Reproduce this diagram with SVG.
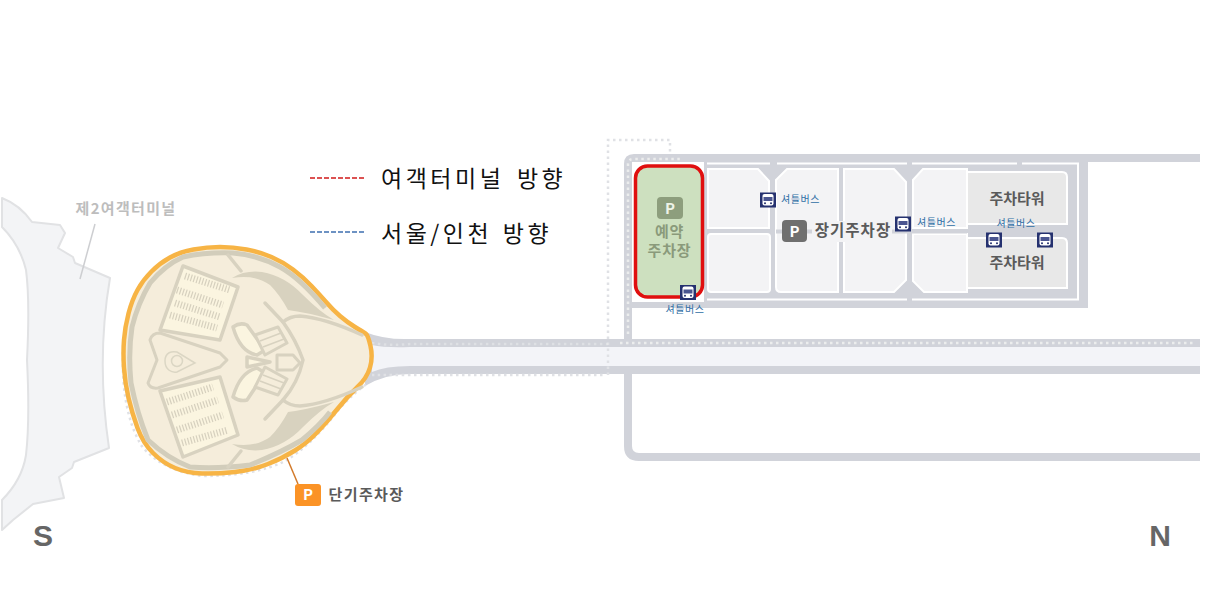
<svg xmlns="http://www.w3.org/2000/svg" width="1214" height="602" viewBox="0 0 1214 602">
<style>
text{font-family:"Noto Sans CJK KR","Liberation Sans",sans-serif}
.lot{fill:#f3f3f5;stroke:#fff;stroke-width:2}
.tower{fill:#e8e8e8;stroke:#fff;stroke-width:2}
.sh{font-size:10px;fill:#2f6ea5;text-anchor:middle;letter-spacing:.6px}
.dot{fill:none;stroke:#e0e1e5;stroke-width:2.500;stroke-dasharray:2.500 3.500}
.dotl{fill:none;stroke:#eceded;stroke-width:2.500;stroke-dasharray:2.500 3.500}
.wl{fill:none;stroke:#fff;stroke-width:2}
.ln{fill:none;stroke:#d8d2c0;stroke-width:3.500;stroke-linejoin:round;stroke-linecap:round}
.stall{fill:#fbf5e0;stroke:#d8d2c0;stroke-width:3.500;stroke-linejoin:round}
.part{fill:#f5eddb;stroke:#d8d2c0;stroke-width:3;stroke-linejoin:round}
.hatch{fill:none;stroke:#d6d0be;stroke-width:7;stroke-dasharray:1.200 1.800}
.lbl{font-weight:700;fill:#5a5a5a;text-anchor:middle}
.leg{font-size:23px;fill:#111;letter-spacing:3.500px}
</style>
<defs>
<g id="bus"><rect x="-8" y="-7.500" width="16" height="15" fill="#25316f"/><rect x="-5.500" y="-6" width="11" height="11.500" rx="2" fill="#fff"/><rect x="-4.500" y="-3" width="9" height="4" fill="#4a5590"/><circle cx="-3" cy="3.300" r="1" fill="#25316f"/><circle cx="3" cy="3.300" r="1" fill="#25316f"/></g>
<path id="blobp" d="M370.500 346Q368 335 365.500 333.500Q363 332 355 327Q347 322 340 316Q333 310 326.500 302.500Q320 295 311.500 286Q303 277 293 269.500Q283 262 271.500 257Q260 252 246.500 249.500Q233 247 220 247Q207 247 193.500 249.500Q180 252 170 257.500Q160 263 151.500 271.500Q143 280 137.500 290Q132 300 128.500 313.500Q125 327 124 340Q123 353 124 368Q125 383 128.500 398Q132 413 137.500 428Q143 443 153 453Q163 463 175 468Q187 473 202 473.500Q217 474 235 472Q253 470 268 464Q283 458 295 450.500Q307 443 317 432.500Q327 422 337 409.500Q347 397 357 387.500Q367 378 370 367.500Q373 357 370.500 346Z"/>
<g id="wedge"><path d="M232 278Q245 270 262 272Q285 276 303 295Q320 312 334 320Q305 312 288 310Q280 295 270 285Q255 274 232 278Z" fill="#d8d2bf"/><path d="M228 255L241 271" class="ln"/><path d="M265 303L283 322Q290 316 300 316Q325 318 362 335" class="ln"/></g>
</defs>

<g id="terminal2">
<path d="M2 198Q20 205 32 222L60 225L65 233L58 248L73 257L75 263L110 278Q96 360 109 448L74 462L72 468L59 477L64 498L33 504L13 520L2 530V500Q22 480 26 455Q30 420 27 360Q30 300 26 270Q20 245 2 227Z" fill="#f3f4f6" stroke="#e1e2e4" stroke-width="2" stroke-linejoin="round"/>
<path d="M95 224L80 279" fill="none" stroke="#cdced1" stroke-width="1.500"/>
<text x="126" y="214" font-size="15" font-weight="700" fill="#bdbdbd" text-anchor="middle" letter-spacing="1.300">제2여객터미널</text>
</g>

<g id="connectors">
<path d="M365 332Q385 340 410 339H1200V374H410Q385 374 365 386Z" fill="#d1d3da"/>
<path d="M372 345Q385 348 410 347H1200V366H410Q385 366 372 372Z" fill="#f3f4f8"/>
<path d="M634 154H1200V162H1088V308H632V339H624V164Q624 154 634 154Z" fill="#d1d3da"/>
<path d="M628 374V446Q628 457 639 457H1200" fill="none" stroke="#d1d3da" stroke-width="8"/>
<rect x="632" y="162" width="72" height="140" fill="#fff"/>
<rect x="632" y="308" width="600" height="31" fill="#fff"/>
<rect x="1088" y="162" width="126" height="146" fill="#fff"/>
<path d="M707 163.500H770M777 163.500H907M912 163.500H1017M1022 163.500H1078V299.500H912M907 299.500H707" class="wl"/>
<path d="M620 343H1196M628 334V164Q628 159 634 159H682" class="dotl"/>
<path d="M608 375V140H670V154" class="dot"/>
<path d="M372 375Q390 375 410 375H606" class="dot"/>
<path d="M372 343Q390 346 410 344H608" class="dotl" stroke-width="2" stroke-opacity=".5"/>
</g>

<g id="long-term-lots">
<path d="M708 169H758L769 181V228H708Z" class="lot"/>
<rect x="708" y="234" width="62" height="58" rx="3" class="lot"/>
<path d="M787 169H838V292H781Q776 292 776 287V180Z" class="lot"/>
<path d="M844 169H894L906 182V280L894 292H844Z" class="lot"/>
<path d="M923 169H967V228H913V180Z" class="lot"/>
<path d="M913 234H967V292H924L913 281Z" class="lot"/>
<path d="M967 172H1062Q1067 172 1067 177V224H967Z" class="tower"/>
<path d="M967 238H1062Q1067 238 1067 243V288H967Z" class="tower"/>
<path d="M776 231.500H967" stroke="#d1d3da" stroke-width="4"/>
<rect x="812" y="221" width="80" height="21" fill="#f3f3f5"/>
<text x="1017" y="204" font-size="15" class="lbl">주차타워</text>
<text x="1017" y="268" font-size="15" class="lbl">주차타워</text>
<rect x="782" y="220" width="25" height="22" rx="4" fill="#6f6f6f"/>
<text x="794.500" y="236.500" font-size="15" font-weight="700" fill="#fff" text-anchor="middle">P</text>
<text x="853" y="236" font-size="15.500" class="lbl" letter-spacing="1">장기주차장</text>
</g>

<g id="reserved-parking">
<rect x="635.500" y="166" width="67" height="131" rx="12" fill="#cde0bf" stroke="#e00f0f" stroke-width="3.500"/>
<rect x="657" y="197" width="26" height="22" rx="4" fill="#8d9e7d"/>
<text x="670" y="213.500" font-size="15" font-weight="700" fill="#eef3e8" text-anchor="middle">P</text>
<text x="669.500" font-size="15" font-weight="700" fill="#8a9a7b" text-anchor="middle" letter-spacing=".8" y="237">예약<tspan x="669.500" y="256">주차장</tspan></text>
</g>

<g id="short-term-parking">
<path d="M123 352Q121 410 141 445Q160 470 202 476Q255 476 285 461Q310 447 340 408Q355 392 368 383" class="dot" stroke-width="2" stroke-dasharray="2 2"/>
<use href="#blobp" fill="#f5eddb" stroke="#f7b445" stroke-width="4.500"/>
<path d="M325 308Q300 278 280 267Q258 255 233 253Q207 252 183 257Q165 265 150 283Q138 303 132 327Q128 353 131 383Q137 413 148 440Q167 458 190 467Q217 469 250 465Q280 453 302 440Q320 425 330 412" fill="none" stroke="#d2cdbb" stroke-width="5"/>
<use href="#wedge"/>
<use href="#wedge" transform="matrix(1 0 0 -1 0 722)"/>
<path d="M283 322Q296 340 303 360Q298 383 283 400" class="ln"/>
<path d="M183 266L238 287L220 340L160 330Z" class="stall"/>
<path d="M160 391L220 377L238 435L183 457Z" class="stall"/>
<path d="M185 276L230 290M177 290L223 305M175 303L220 317M170 315L217 328" class="hatch"/>
<path d="M167 402L213 387M172 415L218 400M177 430L223 415M182 443L228 430" class="hatch"/>
<path d="M150 340Q152 333 160 333L220 353L227 360L220 367L158 388Q150 389 148 383L157 360Z" class="part"/>
<circle cx="177" cy="361" r="5.500" fill="none" stroke="#dbd6c4" stroke-width="1.500"/>
<path d="M165 361C165 352 172 351 177 352L195 363L177 372C172 373 165 370 165 361Z" fill="none" stroke="#dbd6c4" stroke-width="1.500"/>
<path d="M233 327Q240 322 247 325L265 350L257 355Q240 352 233 327Z" class="stall" stroke-width="3"/>
<path d="M233 397Q240 402 247 400L265 373L257 368Q240 372 233 397Z" class="stall" stroke-width="3"/>
<path d="M255 335L278 327L287 343L265 355Z" class="part" fill="#f8f1de"/>
<path d="M255 387L278 395L287 379L265 367Z" class="part" fill="#f8f1de"/>
<path d="M260 341L281 333M263 347L284 339M260 381L281 389M263 375L284 383" fill="none" stroke="#d8d2c0" stroke-width="1.500"/>
<path d="M247 357L270 362L247 367Z" class="stall" stroke-width="2.500"/>
<path d="M277 355H293L300 363L293 370H277Z" class="part"/>
<path d="M287 458L298 484" fill="none" stroke="#d27a2b" stroke-width="1.500"/>
<rect x="295" y="484" width="26" height="22" rx="3" fill="#fb9326"/>
<text x="308" y="500" font-size="15" font-weight="700" fill="#fff" text-anchor="middle">P</text>
<text x="366.500" y="500" font-size="15" class="lbl" letter-spacing="1.400">단기주차장</text>
</g>

<g id="shuttle-stops">
<use href="#bus" x="768" y="200"/><text x="800.500" y="203" class="sh">셔틀버스</text>
<use href="#bus" x="903" y="224"/><text x="936.500" y="226" class="sh">셔틀버스</text>
<use href="#bus" x="688" y="292.500"/><text x="685" y="313" class="sh">셔틀버스</text>
<text x="1016" y="227" class="sh">셔틀버스</text>
<use href="#bus" x="994" y="240"/><use href="#bus" x="1045" y="240"/>
</g>

<g id="legend">
<path d="M310 178H366" stroke="#d11a1a" stroke-width="1.500" stroke-dasharray="5 2" fill="none"/>
<text x="381" y="187" class="leg" word-spacing="4">여객터미널 방향</text>
<path d="M310 232H366" stroke="#3e6fb0" stroke-width="1.500" stroke-dasharray="5 2" fill="none"/>
<text x="381" y="242" class="leg" word-spacing="2">서울/인천 방향</text>
</g>

<g id="compass">
<text x="43" y="546" font-size="30" font-weight="700" fill="#666" text-anchor="middle" style="font-family:'Liberation Sans',sans-serif">S</text>
<text x="1160" y="546" font-size="30" font-weight="700" fill="#666" text-anchor="middle" style="font-family:'Liberation Sans',sans-serif">N</text>
</g>
</svg>
